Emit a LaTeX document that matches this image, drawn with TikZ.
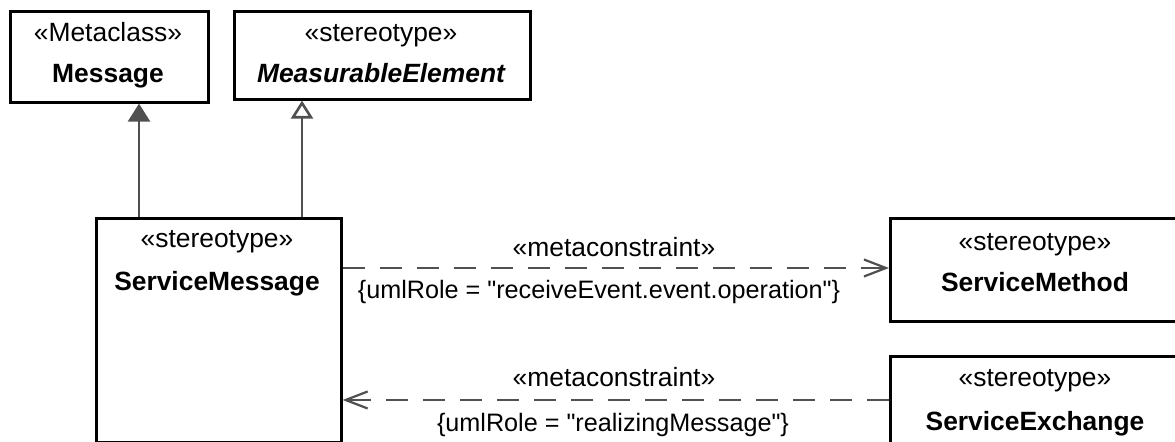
\documentclass[tikz,border=0pt]{standalone}
\usepackage{fontspec}
\setmainfont{Liberation Sans}
\usetikzlibrary{arrows.meta,positioning}
\definecolor{wire}{HTML}{505050}

\begin{document}
\begin{tikzpicture}[x=0.5pt,y=-0.5pt,>=Latex,
klass/.style={draw=black,line width=1.3pt,anchor=north west,inner sep=0pt},
kword/.style={anchor=base,inner sep=0pt,font=\fontsize{13.2}{16}\selectfont},
kname/.style={anchor=base,inner sep=0pt,font=\bfseries\fontsize{13.2}{16}\selectfont},
krole/.style={anchor=base,inner sep=0pt,font=\fontsize{12.6}{15}\selectfont},
gen/.style={wire,line width=1.3pt},
dep/.style={wire,line width=1.1pt,dash pattern=on 11pt off 7.5pt,-{Straight Barb[length=11pt,width=8.5pt,line width=1.1pt]}}]

\useasboundingbox (0,0) rectangle (1175,442);

% classes
\node[klass,minimum width=99pt,minimum height=45.5pt] (msg) at (9,10) {};
\node[klass,minimum width=148pt,minimum height=44pt] (meas) at (233,10) {};
\node[klass,minimum width=122.5pt,minimum height=112pt] (smsg) at (95,217) {};
\node[klass,minimum width=146pt,minimum height=51.5pt] (smeth) at (889,217) {};
\node[klass,minimum width=146pt,minimum height=60pt] (sexch) at (889,355) {};

\node[kword] at (108,42) {«Metaclass»};
\node[kname] at (108,83) {Message};
\node[kword] at (381,42) {«stereotype»};
\node[kname,font=\bfseries\itshape\fontsize{13.2}{16}\selectfont] at (381,83) {MeasurableElement};
\node[kword] at (217,248) {«stereotype»};
\node[kname] at (217,291) {ServiceMessage};
\node[kword] at (1035,251) {«stereotype»};
\node[kname] at (1035,292) {ServiceMethod};
\node[kword] at (1035,387) {«stereotype»};
\node[kname] at (1035,431) {ServiceExchange};

% generalizations
\draw[gen,-{Triangle[length=9pt,width=11pt]}] (smsg.north -| 139,0) -- (msg.south -| 139,0);
\draw[gen,-{Triangle[open,fill=white,length=9pt,width=11pt]}] (smsg.north -| 302,0) -- (meas.south -| 302,0);

% metaconstraints
\draw[dep] (smsg.east |- 0,268) -- (smeth.west |- 0,268);
\draw[dep] (sexch.west |- 0,400) -- (smsg.east |- 0,400);
\node[kword] at (614,257) {«metaconstraint»};
\node[krole] at (599,299) {\{umlRole = \textquotedbl receiveEvent.event.operation\textquotedbl\}};
\node[kword] at (614,387) {«metaconstraint»};
\node[krole] at (613,432) {\{umlRole = \textquotedbl realizingMessage\textquotedbl\}};
\end{tikzpicture}
\end{document}
